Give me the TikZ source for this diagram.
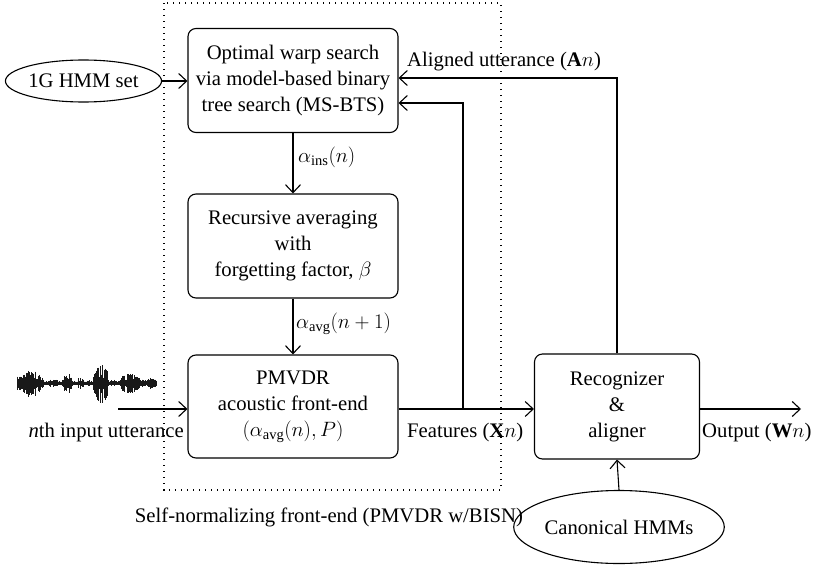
\documentclass[tikz,border=0pt]{standalone}
\usepackage{fontspec}
\setmainfont{Liberation Serif}
\usetikzlibrary{arrows.meta,shapes.geometric,calc}
\begin{document}
\begin{tikzpicture}[x=1pt,y=-1pt,
  every node/.style={font=\fontsize{20.7}{26}\selectfont},
  blk/.style={draw,rounded corners=8pt,line width=1.1pt,minimum width=210pt,minimum height=104pt,align=center,inner sep=0pt},
  oval/.style={draw,ellipse,line width=1.1pt,inner sep=0pt},
  conn/.style={line width=1.1pt,-{Straight Barb[length=8pt,width=15pt,line width=1.1pt]}},
  lbl/.style={inner sep=0pt},
  frame/.style={line width=1.1pt,dash pattern=on 1.1pt off 4.9pt},
]
\useasboundingbox (0,0) rectangle (817,565);

% dotted frame
\draw[frame] (164,3) rectangle (501,490);
\node[lbl] (selfn) at (329,517) {Self-normalizing front-end (PMVDR w/BISN)};

% blocks
\node[blk] (ows) at (293,80.5) {Optimal warp search\\via model-based binary\\tree search (MS-BTS)};
\node[blk] (ravg) at (293,246) {Recursive averaging\\with\\forgetting factor, $\beta$};
\node[blk,minimum height=103pt] (pmv) at (293,406.5) {PMVDR\\acoustic front-end\\$(\alpha_{\mathrm{avg}}(n),P)$};
\node[blk,minimum width=165pt,minimum height=105pt] (rec) at (617,406.5) {Recognizer\\\&\\aligner};

% ellipses
\node[oval,minimum width=147pt,minimum height=42pt] (hmm1) at (83.5,81) {1G HMM set};
\node[oval,minimum width=160pt,minimum height=73pt] (canon) at (619,527) {Canonical HMMs};

% labels
\node[lbl,anchor=west] (lins) at (298,157) {$\alpha_{\mathrm{ins}}(n)$};
\node[lbl,anchor=west] (lavg) at (296,324) {$\alpha_{\mathrm{avg}}(n+1)$};
\node[lbl,anchor=west] (lal) at (407,62) {Aligned utterance ($\mathbf{A}n$)};
\node[lbl,anchor=east] (lin) at (184,433) {\emph{n}th input utterance};
\node[lbl,anchor=west] (lfeat) at (407,433) {Features ($\mathbf{X}n$)};
\node[lbl,anchor=west] (lout) at (702,433) {Output ($\mathbf{W}n$)};

% coordinates
\coordinate (inp) at (118,409);
\coordinate (outp) at (801,409);
\coordinate (jn) at (463,409);
\coordinate (ows1) at ($(ows.east)+(0,-2.5)$);
\coordinate (ows2) at ($(ows.east)+(0,22.5)$);

% connectors
\draw[conn] (hmm1.east) -- (ows.west |- hmm1.east);
\draw[conn] (ows) -- (ravg);
\draw[conn] (ravg) -- (pmv);
\draw[conn] (inp) -- (pmv.west |- inp);
\draw[conn] (pmv.east |- jn) -- (rec.west |- jn);
\draw[conn] (jn) |- (ows2);
\draw[conn] (rec.north) |- (ows1);
\draw[conn] (rec.east |- outp) -- (outp);
\draw[conn] (canon.north) -- (rec.south);

% waveform
\pgfmathsetseed{11}
\foreach \a/\b/\m in {17/44/13, 44/62/4, 62/73/10, 73/78/2.5, 78/84/7, 84/93/3, 93/109/19, 109/120/3.5, 120/140/11, 140/157/5.5} {
  \pgfmathtruncatemacro\n{(\b-\a)/0.7}
  \foreach \i in {0,...,\n} {
    \pgfmathsetmacro\x{\a+0.7*\i}
    \pgfmathsetmacro\h{max(1.5,\m*(0.3+0.7*rnd)*(0.45+0.55*sin(180*(\i+0.5)/(\n+1))))}
    \draw[line width=0.9pt,black!90] (\x,383-\h) -- (\x,383+1.15*\h);
  }
}
\end{tikzpicture}
\end{document}
